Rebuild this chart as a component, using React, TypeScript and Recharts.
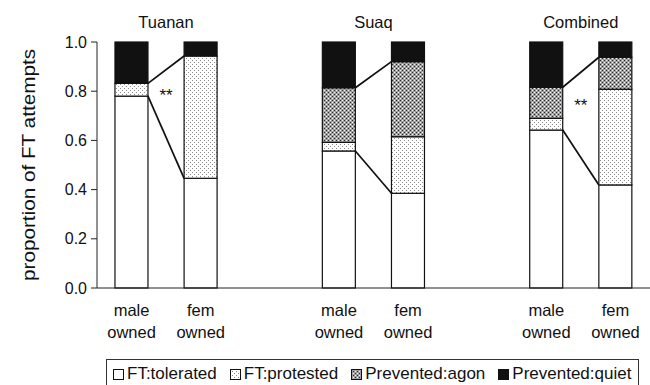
import { BarChart, Bar, XAxis, YAxis } from "recharts";

// groups and bar owners
const groups = ["Tuanan", "Suaq", "Combined"];
const owners = ["male owned", "fem owned"];

// proportions per bar, order: Tuanan m/f, Suaq m/f, Combined m/f
const tolerated = [0.78, 0.446, 0.557, 0.385, 0.642, 0.419];
const protested = [0.052, 0.497, 0.035, 0.23, 0.048, 0.389];
const agon = [0, 0, 0.222, 0.305, 0.126, 0.13];
const quiet = [0.168, 0.057, 0.186, 0.08, 0.184, 0.062];

// significance marks between the two bars of each group
const sigMarks = ["**", "", "**"];
const sigLevel = [0.798, null, 0.757];

const yTicks = [0, 0.2, 0.4, 0.6, 0.8, 1.0];

const legendItems = [
  { name: "FT:tolerated", fill: "#fff" },
  { name: "FT:protested", fill: "url(#dots)" },
  { name: "Prevented:agon", fill: "url(#cross)" },
  { name: "Prevented:quiet", fill: "#111" },
];

const FONT = "'Liberation Sans', Arial, Helvetica, sans-serif";

const rows: any[] = [];
groups.forEach((group, g) => {
  owners.forEach((owner, o) => {
    const k = g * 2 + o;
    rows.push({
      key: `${group} ${owner}`,
      g,
      o,
      owner,
      tolerated: tolerated[k],
      protested: protested[k],
      agon: agon[k],
      quiet: quiet[k],
    });
  });
  if (g < groups.length - 1) rows.push({ key: `gap${g}` });
});

// male bar geometry, read back by the fem bar of the same group to draw connectors
const links: Record<number, any> = {};

const makeShape = (kind: string) => (props: any) => {
  const { x, y, width, height, fill, payload } = props;
  if (!payload || payload.g === undefined || !(height > 0)) return <g />;
  const rec = links[payload.g] || (links[payload.g] = {});
  const male = payload.o === 0;
  const extra: any[] = [];

  if (kind === "tolerated") {
    if (male) {
      rec.right = x + width;
      rec.tolY = y;
    } else if (rec.right != null) {
      extra.push(<line key="l1" x1={rec.right} y1={rec.tolY} x2={x} y2={y} stroke="#111" strokeWidth={1.7} />);
    }
  }

  if (kind === "quiet") {
    if (male) {
      rec.right = x + width;
      rec.center = x + width / 2;
      rec.qY = y + height;
    } else if (rec.right != null) {
      const g = payload.g;
      extra.push(
        <line key="l2" x1={rec.right} y1={rec.qY} x2={x} y2={y + height} stroke="#111" strokeWidth={1.7} />
      );
      extra.push(
        <text key="t" x={(rec.center + x + width / 2) / 2} y={y - 14} textAnchor="middle" fontSize={16.5} fill="#111">
          {groups[g]}
        </text>
      );
      if (sigMarks[g] && sigLevel[g] != null) {
        const ppu = height / payload.quiet;
        const sy = y + (1 - (sigLevel[g] as number)) * ppu;
        extra.push(
          <text key="s" x={(rec.right + x) / 2} y={sy + 9} textAnchor="middle" fontSize={17} fill="#111">
            {sigMarks[g]}
          </text>
        );
      }
    }
  }

  return (
    <g>
      <rect x={x} y={y} width={width} height={height} fill={fill} stroke="#111" strokeWidth={1.2} />
      {extra}
    </g>
  );
};

const XTick = (props: any) => {
  const { x, y, payload } = props;
  const row = rows[payload.index];
  if (!row || !row.owner) return <g />;
  const [a, b] = row.owner.split(" ");
  return (
    <text x={x} y={y} textAnchor="middle" fontSize={16.5} fill="#111">
      <tspan x={x} dy={20}>{a}</tspan>
      <tspan x={x} dy={22}>{b}</tspan>
    </text>
  );
};

const YLabel = (props: any) => {
  const vb = props.viewBox || {};
  const cx = (vb.x ?? 0) + 29;
  const cy = (vb.y ?? 0) + (vb.height ?? 0) / 2;
  return (
    <text
      x={cx}
      y={cy}
      transform={`rotate(-90, ${cx}, ${cy})`}
      textAnchor="middle"
      dominantBaseline="central"
      fontSize={18}
      textLength={232}
      lengthAdjust="spacingAndGlyphs"
      fill="#111"
    >
      proportion of FT attempts
    </text>
  );
};

const Swatch = ({ fill }: { fill: string }) => (
  <svg width={11} height={11} style={{ marginRight: 3, flex: "none" }}>
    <rect x={0.5} y={0.5} width={10} height={10} fill={fill} stroke="#111" strokeWidth={1} />
  </svg>
);

export default function App() {
  return (
    <div style={{ position: "absolute", left: 0, top: 0, width: 650, height: 385, background: "#fff", fontFamily: FONT }}>
      <svg width={0} height={0} style={{ position: "absolute" }}>
        <defs>
          <pattern id="dots" width={4} height={4} patternUnits="userSpaceOnUse">
            <rect width={4} height={4} fill="#fff" />
            <rect x={0} y={0} width={1} height={1} fill="#8a8a8a" />
            <rect x={2} y={2} width={1} height={1} fill="#8a8a8a" />
          </pattern>
          <pattern id="cross" width={4} height={4} patternUnits="userSpaceOnUse">
            <rect width={4} height={4} fill="#a0a0a0" />
            <rect x={0} y={0} width={1} height={1} fill="#2a2a2a" />
            <rect x={2} y={2} width={1} height={1} fill="#2a2a2a" />
            <rect x={2} y={0} width={1} height={1} fill="#f4f4f4" />
            <rect x={0} y={2} width={1} height={1} fill="#f4f4f4" />
          </pattern>
        </defs>
      </svg>
      <BarChart
        width={650}
        height={385}
        data={rows}
        margin={{ top: 42, right: 0, bottom: 0, left: 0 }}
        barCategoryGap="26%"
        style={{ fontFamily: FONT }}
      >
        <XAxis
          dataKey="key"
          interval={0}
          tickLine={false}
          axisLine={{ stroke: "#222" }}
          height={97}
          tick={(p: any) => <XTick {...p} />}
        />
        <YAxis
          domain={[0, 1]}
          ticks={yTicks}
          width={97}
          tickSize={6}
          tickMargin={4}
          tickFormatter={(v: number) => v.toFixed(1)}
          tick={{ fontSize: 16, fill: "#111" }}
          tickLine={{ stroke: "#222" }}
          axisLine={{ stroke: "#222" }}
          label={(p: any) => <YLabel {...p} />}
        />
        <Bar dataKey="tolerated" stackId="a" fill="#fff" shape={makeShape("tolerated")} isAnimationActive={false} />
        <Bar dataKey="protested" stackId="a" fill="url(#dots)" shape={makeShape("protested")} isAnimationActive={false} />
        <Bar dataKey="agon" stackId="a" fill="url(#cross)" shape={makeShape("agon")} isAnimationActive={false} />
        <Bar dataKey="quiet" stackId="a" fill="#111" shape={makeShape("quiet")} isAnimationActive={false} />
      </BarChart>
      <div
        style={{
          position: "absolute",
          left: 106,
          top: 359,
          width: 533,
          height: 32,
          border: "1px solid #333",
          display: "flex",
          alignItems: "flex-start",
          paddingTop: 4,
          paddingLeft: 6,
          boxSizing: "border-box",
          fontSize: 17,
          color: "#111",
          whiteSpace: "nowrap",
        }}
      >
        {legendItems.map((it) => (
          <div key={it.name} style={{ display: "flex", alignItems: "center", marginRight: 13 }}>
            <Swatch fill={it.fill} />
            <span>{it.name}</span>
          </div>
        ))}
      </div>
    </div>
  );
}
